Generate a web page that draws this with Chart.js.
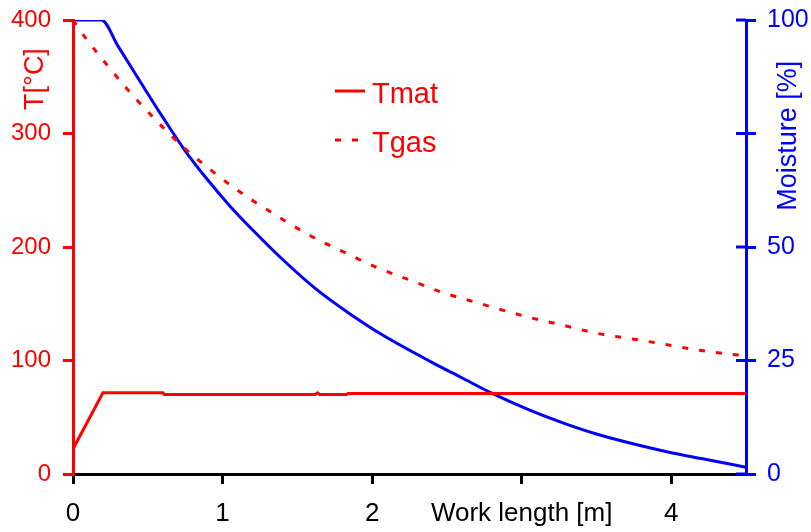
<!DOCTYPE html>
<html>
<head>
<meta charset="utf-8">
<script src="https://cdn.jsdelivr.net/npm/chart.js@4"></script>
<style>
  html, body { margin: 0; padding: 0; background: #fff; }
</style>
</head>
<body>
<canvas id="chart" width="811" height="532"></canvas>
<script>
// work length [m] and values
const tmatX = [0, 0.2, 0.6, 0.61, 1.62, 1.635, 1.65, 1.83, 1.84, 4.5]
const tmatY = [22, 71.5, 71.5, 70, 70, 71.5, 70, 70, 71, 71]

const tgasX = [0, 0.08, 0.23, 0.39, 0.56, 0.73, 0.92, 1.1, 1.32, 1.6, 1.82, 2.03, 2.25, 2.47, 2.7, 3.05, 3.28, 3.5, 3.74, 3.97, 4.19, 4.5]
const tgasY = [400, 385, 360, 335, 311, 289, 268, 250, 231, 209, 195, 182, 171, 160, 151, 138, 131, 124, 119, 114, 109, 104]

const moistX = [0, 0.19, 0.3, 0.45, 0.6, 0.75, 0.9, 1.05, 1.2, 1.4, 1.63, 1.85, 2.07, 2.4, 2.6, 2.8, 3.05, 3.28, 3.5, 3.75, 4.0, 4.2, 4.5]
const moistY = [100, 100, 94.3, 86.4, 78.6, 71.2, 64.8, 59.0, 53.8, 47.3, 40.6, 35.3, 30.6, 24.6, 21.2, 17.8, 14.1, 11.2, 8.8, 6.6, 4.7, 3.4, 1.5]

const xTicks = [0, 1, 2, 3, 4]
const xTickLabels = ['0', '1', '2', 'Work length [m]', '4']
const tTicks = [0, 100, 200, 300, 400]
const mTicks = [0, 25, 50, 75, 100]
const mTickLabels = ['0', '25', '50', '', '100']

const RED = '#ff0000'
const BLUE = '#0000ff'
const FONT = "'Liberation Sans', Arial, sans-serif"

const pts = (xs, ys) => xs.map((x, i) => ({ x: x, y: ys[i] }))

// axis titles, legend and the inner half of the right-axis ticks
const overlay = {
  id: 'overlay',
  afterDraw(chart) {
    const ctx = chart.ctx
    const yT = chart.scales.y
    const yM = chart.scales.y2

    ctx.save()
    ctx.strokeStyle = BLUE
    ctx.lineWidth = 3
    yM.ticks.forEach(t => {
      const py = yM.getPixelForValue(t.value)
      ctx.beginPath()
      ctx.moveTo(yM.left - 10, py)
      ctx.lineTo(yM.left, py)
      ctx.stroke()
    })
    ctx.restore()

    ctx.save()
    ctx.font = '27px ' + FONT
    ctx.textAlign = 'center'
    ctx.textBaseline = 'alphabetic'
    ctx.fillStyle = RED
    ctx.translate(43, yT.getPixelForValue(348))
    ctx.rotate(-Math.PI / 2)
    ctx.fillText('T[°C]', 0, 0)
    ctx.restore()

    ctx.save()
    ctx.font = '27px ' + FONT
    ctx.textAlign = 'center'
    ctx.textBaseline = 'alphabetic'
    ctx.fillStyle = BLUE
    ctx.translate(796, yM.getPixelForValue(74.5))
    ctx.rotate(-Math.PI / 2)
    ctx.fillText('Moisture [%]', 0, 0)
    ctx.restore()

    // legend
    const items = [chart.data.datasets[0], chart.data.datasets[1]]
    ctx.save()
    ctx.font = '29px ' + FONT
    ctx.textBaseline = 'alphabetic'
    items.forEach((ds, i) => {
      const ly = 91 + i * 49
      ctx.strokeStyle = ds.borderColor
      ctx.lineWidth = 3
      ctx.setLineDash(ds.borderDash || [])
      ctx.beginPath()
      ctx.moveTo(335, ly)
      ctx.lineTo(ds.borderDash ? 359 : 365, ly)
      ctx.stroke()
      ctx.fillStyle = ds.borderColor
      ctx.fillText(ds.label, 372, ly + 12)
    })
    ctx.restore()
  }
}

const config = {
  type: 'line',
  data: {
    datasets: [
      {
        label: 'Tmat',
        data: pts(tmatX, tmatY),
        borderColor: RED,
        borderWidth: 3,
        pointRadius: 0,
        tension: 0,
        yAxisID: 'y',
      },
      {
        label: 'Tgas',
        data: pts(tgasX, tgasY),
        borderColor: RED,
        borderWidth: 3,
        borderDash: [6, 11],
        pointRadius: 0,
        cubicInterpolationMode: 'monotone',
        yAxisID: 'y',
      },
      {
        label: 'Moisture',
        data: pts(moistX, moistY),
        borderColor: BLUE,
        borderWidth: 3,
        pointRadius: 0,
        cubicInterpolationMode: 'monotone',
        yAxisID: 'y2',
      },
    ],
  },
  options: {
    responsive: false,
    animation: false,
    layout: { padding: { top: 20, left: 0, right: 0, bottom: 0 } },
    plugins: {
      legend: { display: false },
      tooltip: { enabled: false },
    },
    scales: {
      x: {
        type: 'linear',
        min: 0,
        max: 4.5,
        afterBuildTicks: s => { s.ticks = xTicks.map(v => ({ value: v })) },
        afterFit: s => { s.height = 58; s.paddingLeft = 0; s.paddingRight = 0 },
        border: { color: '#000', width: 3 },
        grid: { drawOnChartArea: false, tickLength: 10, color: '#000', lineWidth: 3 },
        ticks: {
          color: '#000',
          font: { family: FONT, size: 26 },
          padding: 14,
          maxRotation: 0,
          autoSkip: false,
          callback: (v, i) => xTickLabels[i],
        },
      },
      y: {
        position: 'left',
        min: 0,
        max: 400,
        afterBuildTicks: s => { s.ticks = tTicks.map(v => ({ value: v })) },
        afterFit: s => { s.width = 73; s.paddingTop = 0; s.paddingBottom = 0 },
        border: { color: RED, width: 3 },
        grid: { drawOnChartArea: false, tickLength: 10, color: RED, lineWidth: 3 },
        ticks: {
          color: RED,
          font: { family: FONT, size: 24 },
          padding: 12,
          callback: v => String(v),
        },
      },
      y2: {
        position: 'right',
        min: 0,
        max: 100,
        afterBuildTicks: s => { s.ticks = mTicks.map(v => ({ value: v })) },
        afterFit: s => { s.width = 65; s.paddingTop = 0; s.paddingBottom = 0 },
        border: { color: BLUE, width: 3 },
        grid: { drawOnChartArea: false, tickLength: 10, color: BLUE, lineWidth: 3 },
        ticks: {
          color: BLUE,
          font: { family: FONT, size: 25 },
          padding: 11,
          callback: (v, i) => mTickLabels[i],
        },
      },
    },
  },
  plugins: [overlay],
}

window.myChart = new Chart(document.getElementById('chart'), config)
</script>
</body>
</html>
